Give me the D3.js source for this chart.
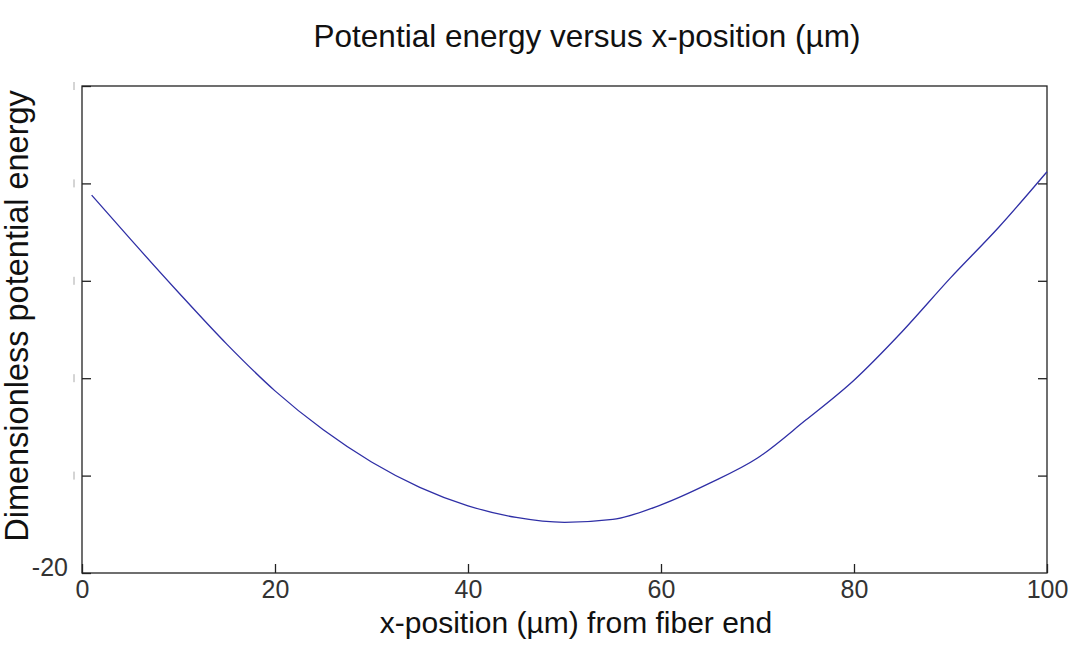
<!DOCTYPE html>
<html><head><meta charset="utf-8">
<script src="https://cdn.jsdelivr.net/npm/d3@7"></script>
<style>body{margin:0;background:#fff}svg{display:block}</style>
</head><body><svg id="c" width="1072" height="655"></svg>
<script>
const xPos = [1,5,10,15,20,25,30,35,40,45,50,55,60,65,70,75,80,85,90,95,100];
const energy = [18.8,14.3,8.8,3.5,-1.3,-5.3,-8.6,-11.2,-13.1,-14.3,-14.8,-14.5,-13.0,-10.8,-8.2,-4.3,-0.2,4.8,10.3,15.5,21.2];
const xTicks = [0,20,40,60,80,100];
const yTicks = [-20,-10,0,10,20,30];
const titleText = "Potential energy versus x-position (µm)";
const xLabel = "x-position (µm) from fiber end";
const yLabel = "Dimensionless potential energy";

const svg = d3.select("#c");
const L = 82, R = 1047, T = 86, B = 573;
const x = d3.scaleLinear().domain([0,100]).range([L,R]);
const y = d3.scaleLinear().domain([-20,30]).range([B,T]);
const font = "'Liberation Sans', Arial, sans-serif";

// frame
svg.append("rect").attr("x",L).attr("y",T).attr("width",R-L).attr("height",B-T)
  .attr("fill","none").attr("stroke","#222").attr("stroke-width",1.3);

// bottom axis
const xa = svg.append("g").attr("transform",`translate(0,${B})`)
  .call(d3.axisBottom(x).tickValues(xTicks).tickSizeInner(-9).tickSizeOuter(0).tickPadding(7));
xa.select(".domain").remove();
xa.selectAll("line").attr("stroke","#222").attr("stroke-width",1.3);
xa.selectAll("text").attr("font-family",font).attr("font-size",25).attr("fill","#333");

// left axis
const ya = svg.append("g").attr("transform",`translate(${L},0)`)
  .call(d3.axisLeft(y).tickValues(yTicks).tickSizeInner(-9).tickSizeOuter(0).tickPadding(14)
    .tickFormat(d => d === -20 ? "-20" : ""));
ya.select(".domain").remove();
ya.selectAll("line").attr("stroke","#222").attr("stroke-width",1.3);
ya.selectAll("text").attr("font-family",font).attr("font-size",25).attr("fill","#333").attr("dy","0.1em");

// clipped fragments of the other y tick labels
svg.selectAll("line.frag").data(yTicks.filter(d => d !== -20)).enter().append("line")
  .attr("class","frag").attr("x1",74).attr("x2",74)
  .attr("y1",d => y(d)-4).attr("y2",d => y(d)+4)
  .attr("stroke","#aaa").attr("stroke-width",1);

// right axis ticks
const ra = svg.append("g").attr("transform",`translate(${R},0)`)
  .call(d3.axisRight(y).tickValues(yTicks.filter(d => d > -20 && d < 30)).tickSizeInner(-9).tickSizeOuter(0).tickFormat(""));
ra.select(".domain").remove();
ra.selectAll("line").attr("stroke","#222").attr("stroke-width",1.3);

// curve
svg.append("path").datum(xPos.map((v,i)=>[v,energy[i]]))
  .attr("fill","none").attr("stroke","#2f2fa6").attr("stroke-width",1.3)
  .attr("d", d3.line().x(d=>x(d[0])).y(d=>y(d[1])).curve(d3.curveMonotoneX));

// titles
svg.append("text").attr("x",587).attr("y",47).attr("text-anchor","middle")
  .attr("font-family",font).attr("font-size",31.5).attr("fill","#111").text(titleText);
svg.append("text").attr("x",576).attr("y",633).attr("text-anchor","middle")
  .attr("font-family",font).attr("font-size",30).attr("fill","#111").text(xLabel);
svg.append("text").attr("transform","translate(28,316) rotate(-90)").attr("text-anchor","middle")
  .attr("font-family",font).attr("font-size",32.5).attr("fill","#111").text(yLabel);
</script></body></html>
